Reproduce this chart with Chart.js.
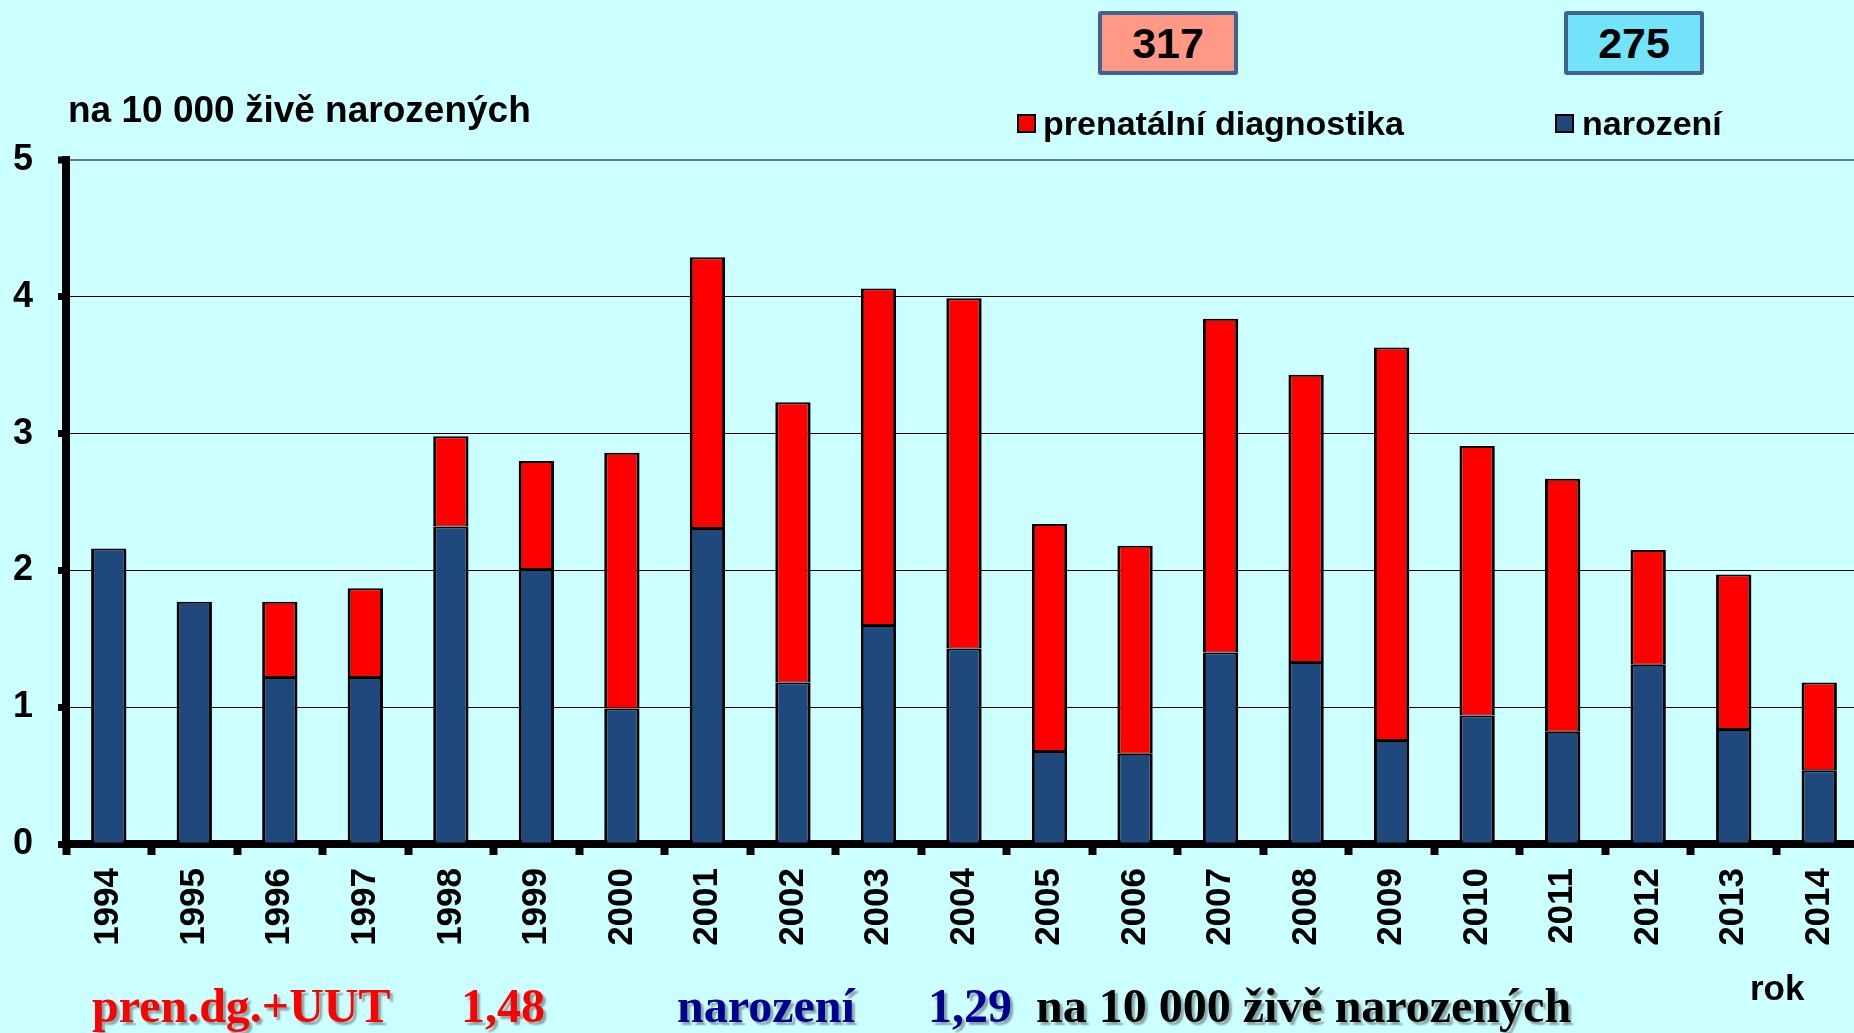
<!DOCTYPE html>
<html lang="cs">
<head>
<meta charset="utf-8">
<title>Incidence 1994-2014</title>
<script src="https://cdn.jsdelivr.net/npm/chart.js@4.4.1/dist/chart.umd.min.js"></script>
<style>
    html, body { margin: 0; padding: 0; background: #ccffff; overflow: hidden; }
    #wrap { position: relative; width: 1854px; height: 1033px; overflow: hidden; }
    #myChart { position: absolute; left: 0; top: 0; }
    .t { position: absolute; white-space: nowrap; line-height: 1; }
    .sans { font-family: "Liberation Sans", Arial, sans-serif; font-weight: bold; color: #000; }
    .serif { font-family: "Liberation Serif", "Times New Roman", serif; font-weight: bold; font-size: 48px; top: 981.8px; text-shadow: 3px 3px 2px rgba(0,0,0,0.35); }
    .box { position: absolute; top: 11px; width: 132px; height: 56px; border: 4px solid #41618e; border-radius: 3px;
           display: flex; align-items: center; justify-content: center;
           font-family: "Liberation Sans", Arial, sans-serif; font-weight: bold; font-size: 43px; color: #000; }
    .sq { position: absolute; width: 15px; height: 15px; border: 2px solid #000; }
</style>
</head>
<body>
<div id="wrap">
    <canvas id="myChart" width="1862" height="1033"></canvas>

    <div class="t sans" style="left:68px; top:90.7px; font-size:37px;">na 10 000 živě narozených</div>

    <div class="box" style="left:1098px; background:#ff9985;">317</div>
    <div class="box" style="left:1564px; background:#73e3f9;">275</div>

    <div class="sq" style="left:1017px; top:114px; background:#ff0000;"></div>
    <div class="t sans" style="left:1043px; top:106.2px; font-size:34px;">prenatální diagnostika</div>
    <div class="sq" style="left:1555px; top:114px; background:#1f497d;"></div>
    <div class="t sans" style="left:1582px; top:106.2px; font-size:34px;">narození</div>

    <div class="t sans" style="left:1750px; top:970.4px; font-size:35px;">rok</div>

    <div class="t serif" style="left:92px; color:#ff0000;">pren.dg.+UUT</div>
    <div class="t serif" style="left:461px; color:#ff0000;">1,48</div>
    <div class="t serif" style="left:677px; color:#000090;">narození</div>
    <div class="t serif" style="left:928px; color:#000090;">1,29</div>
    <div class="t serif" style="left:1036px; color:#000;">na 10 000 živě narozených</div>
</div>

<script>
// hodnoty na 10 000 zive narozenych
const roky = ['1994', '1995', '1996', '1997', '1998', '1999', '2000', '2001', '2002', '2003', '2004',
              '2005', '2006', '2007', '2008', '2009', '2010', '2011', '2012', '2013', '2014'];
const narozeni = [2.16, 1.77, 1.22, 1.22, 2.32, 2.01, 0.99, 2.31, 1.18, 1.60, 1.43,
                  0.68, 0.66, 1.40, 1.33, 0.76, 0.94, 0.82, 1.31, 0.84, 0.54];
const prenatalni = [0, 0, 0.55, 0.65, 0.66, 0.79, 1.87, 1.98, 2.05, 2.46, 2.56,
                    1.66, 1.52, 2.44, 2.10, 2.87, 1.97, 1.85, 0.84, 1.13, 0.64];
const yTicks = [0, 1, 2, 3, 4, 5];

(() => {
    const ctx = document.getElementById('myChart').getContext('2d');
    const bold = (size) => ({ family: '"Liberation Sans", Arial, sans-serif', weight: 'bold', size: size });
    const okraj = { top: 2, bottom: 1, left: 3, right: 3 };

    new Chart(ctx, {
        type: 'bar',
        data: {
            labels: roky,
            datasets: [{
                label: 'narození',
                data: narozeni,
                backgroundColor: '#1f497d',
                borderColor: '#000000',
                borderWidth: okraj,
                borderSkipped: false,
                stack: 'a'
            }, {
                label: 'prenatální diagnostika',
                data: prenatalni,
                backgroundColor: '#ff0000',
                borderColor: '#000000',
                borderWidth: okraj,
                borderSkipped: false,
                stack: 'a'
            }]
        },
        options: {
            responsive: false,
            animation: false,
            categoryPercentage: 1,
            barPercentage: 0.413,
            layout: { padding: { top: 160, right: 0, left: 0, bottom: 0 } },
            plugins: {
                legend: { display: false },
                tooltip: { enabled: false }
            },
            scales: {
                x: {
                    stacked: true,
                    z: 1,
                    afterFit: (scale) => {
                        scale.height = 189;
                        scale.paddingLeft = 0;
                        scale.paddingRight = 0;
                    },
                    border: { display: true, width: 8, color: '#000000' },
                    grid: {
                        drawOnChartArea: false,
                        drawTicks: true,
                        tickLength: 11,
                        tickWidth: 8,
                        tickColor: '#000000'
                    },
                    ticks: {
                        autoSkip: false,
                        minRotation: 90,
                        maxRotation: 90,
                        padding: 13,
                        color: '#000000',
                        font: bold(35)
                    }
                },
                y: {
                    stacked: true,
                    min: yTicks[0],
                    max: yTicks[yTicks.length - 1],
                    afterFit: (scale) => {
                        scale.width = 66;
                        scale.paddingTop = 0;
                        scale.paddingBottom = 0;
                    },
                    afterBuildTicks: (scale) => { scale.ticks = yTicks.map(v => ({ value: v })); },
                    border: { display: true, width: 8, color: '#000000' },
                    grid: {
                        color: (c) => (c.tick && c.tick.value === 5) ? '#5f7f80' : '#000000',
                        lineWidth: (c) => (c.tick && c.tick.value === 5) ? 2 : 1,
                        tickLength: 8,
                        tickWidth: 7,
                        tickColor: '#000000'
                    },
                    ticks: {
                        padding: 25,
                        color: '#000000',
                        font: bold(36)
                    }
                }
            }
        }
    });
})();
</script>
</body>
</html>
